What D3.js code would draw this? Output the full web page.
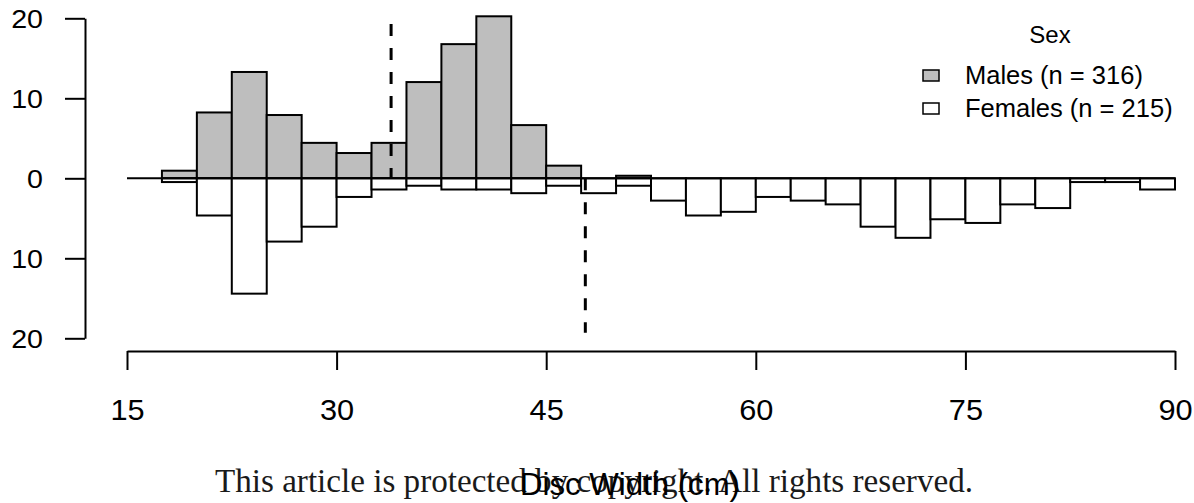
<!DOCTYPE html>
<html>
<head>
<meta charset="utf-8">
<script src="https://cdn.jsdelivr.net/npm/d3@7"></script>
<style>
  body { margin: 0; background: #fff; }
  svg { display: block; }
</style>
</head>
<body>
<div id="chart"></div>
<script>

// Histogram data (percent of each sex per 2.5 cm bin of disc width)
var binStarts = [17.5, 20, 22.5, 25, 27.5, 30, 32.5, 35, 37.5, 40, 42.5, 45, 47.5, 50,
                 52.5, 55, 57.5, 60, 62.5, 65, 67.5, 70, 72.5, 75, 77.5, 80, 82.5, 85, 87.5];
var binWidth = 2.5;

var males = [0.95, 8.23, 13.29, 7.91, 4.43, 3.16, 4.43, 12.03, 16.77, 20.25, 6.65, 1.58, 0, 0.32,
             0, 0, 0, 0, 0, 0, 0, 0, 0, 0, 0, 0, 0, 0, 0];
var females = [0.47, 4.65, 14.42, 7.91, 6.05, 2.33, 1.40, 0.93, 1.40, 1.40, 1.86, 0.93, 1.86, 0.93,
               2.79, 4.65, 4.19, 2.33, 2.79, 3.26, 6.05, 7.44, 5.12, 5.58, 3.26, 3.72, 0.47, 0.47, 1.40];

// dashed reference lines (medians) - males above, females below
var medianMales = 33.9;
var medianFemales = 47.8;

var xTicks = [15, 30, 45, 60, 75, 90];
var yTicks = [-20, -10, 0, 10, 20];
var legendLabels = ["Males (n = 316)", "Females (n = 215)"];
var legendFills = ["#bebebe", "#ffffff"];

var svgWidth = 1194;
var svgHeight = 503;

var svg = d3.select("#chart")
    .append("svg")
    .attr("width", svgWidth)
    .attr("height", svgHeight)
    .style("background", "#fff");

// scales
var x = d3.scaleLinear().domain([15, 90]).range([127, 1175]);
var y = d3.scaleLinear().domain([-20, 20]).range([338.3, 18.3]);

var rows = binStarts.map(function(b, i) {
    return { start: b, m: males[i], f: females[i] };
});

// male bars (upwards)
svg.append("g").selectAll("rect")
    .data(rows.filter(function(d) { return d.m > 0; }))
    .enter().append("rect")
    .attr("x", function(d) { return x(d.start); })
    .attr("width", function(d) { return x(d.start + binWidth) - x(d.start); })
    .attr("y", function(d) { return y(d.m); })
    .attr("height", function(d) { return y(0) - y(d.m); })
    .attr("fill", legendFills[0])
    .attr("stroke", "#000")
    .attr("stroke-width", 2);

// female bars (downwards)
svg.append("g").selectAll("rect")
    .data(rows.filter(function(d) { return d.f > 0; }))
    .enter().append("rect")
    .attr("x", function(d) { return x(d.start); })
    .attr("width", function(d) { return x(d.start + binWidth) - x(d.start); })
    .attr("y", y(0))
    .attr("height", function(d) { return y(-d.f) - y(0); })
    .attr("fill", legendFills[1])
    .attr("stroke", "#000")
    .attr("stroke-width", 2);

// zero line
svg.append("line")
    .attr("x1", x(15)).attr("x2", x(90))
    .attr("y1", y(0)).attr("y2", y(0))
    .attr("stroke", "#000")
    .attr("stroke-width", 2);

// dashed median lines
svg.append("line")
    .attr("x1", x(medianMales)).attr("x2", x(medianMales))
    .attr("y1", y(19.3)).attr("y2", y(0))
    .attr("stroke", "#000").attr("stroke-width", 3)
    .attr("stroke-dasharray", "12,12");

svg.append("line")
    .attr("x1", x(medianFemales)).attr("x2", x(medianFemales))
    .attr("y1", y(0)).attr("y2", y(-19.3))
    .attr("stroke", "#000").attr("stroke-width", 3)
    .attr("stroke-dasharray", "12,12");

// y axis
var yAxis = d3.axisLeft(y)
    .tickValues(yTicks)
    .tickSize(20)
    .tickSizeOuter(0)
    .tickFormat(function(d) { return Math.abs(d); });

var yG = svg.append("g")
    .attr("transform", "translate(85,0)")
    .call(yAxis);
yG.select(".domain").attr("stroke-width", 2);
yG.selectAll(".tick line").attr("stroke-width", 2);
yG.selectAll(".tick text")
    .attr("x", null).attr("dy", null)
    .attr("transform", "translate(-42,9) scale(1.1,1)")
    .attr("fill", "#000")
    .style("font-family", "'Liberation Sans', Arial, sans-serif")
    .style("font-size", "26px");

// x axis
var xAxis = d3.axisBottom(x)
    .tickValues(xTicks)
    .tickSize(19)
    .tickSizeOuter(0);

var xG = svg.append("g")
    .attr("transform", "translate(0,351)")
    .call(xAxis);
xG.select(".domain").attr("stroke-width", 2);
xG.selectAll(".tick line").attr("stroke-width", 2);
xG.selectAll(".tick text")
    .attr("y", null).attr("dy", null)
    .attr("transform", "translate(0,69) scale(1.06,1)")
    .attr("fill", "#000")
    .style("font-family", "'Liberation Sans', Arial, sans-serif")
    .style("font-size", "29px");

// legend
var legend = svg.append("g");
legend.append("text")
    .attr("x", 1050).attr("y", 43)
    .attr("text-anchor", "middle")
    .style("font-family", "'Liberation Sans', Arial, sans-serif")
    .style("font-size", "24px")
    .text("Sex");

legendLabels.forEach(function(lab, i) {
    var cy = 75.5 + i * 33;
    legend.append("rect")
        .attr("x", 923).attr("y", cy - 5.5)
        .attr("width", 16).attr("height", 11)
        .attr("fill", legendFills[i])
        .attr("stroke", "#000")
        .attr("stroke-width", 1.5);
    legend.append("text")
        .attr("x", 965).attr("y", cy + 8.5)
        .style("font-family", "'Liberation Sans', Arial, sans-serif")
        .style("font-size", "25.5px")
        .text(lab);
});

// watermark + x title (overlapping, as in the source image)
svg.append("text")
    .attr("x", 215).attr("y", 492)
    .attr("textLength", 758)
    .attr("lengthAdjust", "spacingAndGlyphs")
    .attr("fill", "#1a1a1a")
    .style("font-family", "'Liberation Serif', 'DejaVu Serif', serif")
    .style("font-size", "33px")
    .text("This article is protected by copyright. All rights reserved.");

svg.append("text")
    .attr("x", 630).attr("y", 495)
    .attr("text-anchor", "middle")
    .attr("textLength", 220)
    .attr("lengthAdjust", "spacingAndGlyphs")
    .style("font-family", "'Liberation Sans', Arial, sans-serif")
    .style("font-size", "31px")
    .text("Disc Width (cm)");

</script>
</body>
</html>
